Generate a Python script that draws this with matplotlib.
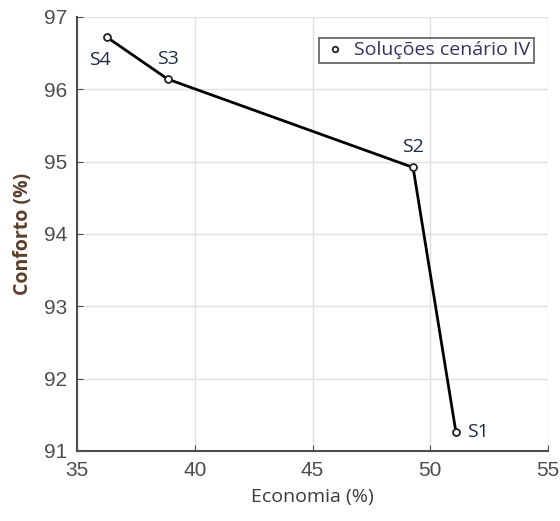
import matplotlib
matplotlib.use("Agg")
import matplotlib.pyplot as plt

economia = [51.09, 49.27, 38.86, 36.27]
conforto = [91.26, 94.92, 96.14, 96.72]
labels = ["S1", "S2", "S3", "S4"]
xticks = [35, 40, 45, 50, 55]
yticks = [91, 92, 93, 94, 95, 96, 97]

fig = plt.figure(figsize=(5.6, 5.21), dpi=100)
ax = fig.add_axes([0.1375, 0.1344, 0.8411, 0.833])
ax.plot(economia, conforto, color="black", lw=2, marker="o", ms=5,
        mfc="white", mec="#222222", mew=1.3, label="Soluções cenário IV")

offsets = [(8, 0, "left", "center"), (0, 8, "center", "bottom"),
           (0, 8, "center", "bottom"), (3, -10, "right", "top")]
for x, y, t, (dx, dy, ha, va) in zip(economia, conforto, labels, offsets):
    ax.annotate(t, (x, y), xytext=(dx, dy), textcoords="offset points",
                ha=ha, va=va, fontsize=14, color="#1f2a44", family="Open Sans")

ax.set_xlim(35, 55)
ax.set_ylim(91, 97)
ax.set_xticks(xticks)
ax.set_yticks(yticks)
ax.grid(True, color="#e0e0e0", lw=1)
ax.set_axisbelow(True)
for s in ["top", "right"]:
    ax.spines[s].set_visible(False)
for s in ["left", "bottom"]:
    ax.spines[s].set_color("#4d4d4d")
    ax.spines[s].set_linewidth(1.5)
ax.tick_params(direction="in", length=4, colors="#4d4d4d", labelsize=15,
               labelcolor="#4d4d4d", pad=7)
for lab in ax.get_xticklabels() + ax.get_yticklabels():
    lab.set_family("Liberation Sans")
ax.set_xlabel("Economia (%)", fontsize=14, color="#3a3a3a", family="Open Sans",
              labelpad=6)
ax.set_ylabel("Conforto (%)", fontsize=14, color="#5a3e2b", family="Open Sans",
              fontweight="bold", labelpad=8)
leg = ax.legend(loc="upper right", fontsize=14, frameon=True, fancybox=False,
                borderpad=0.2, handletextpad=0.3, handlelength=1.3,
                bbox_to_anchor=(0.99, 0.975), markerscale=0.8)
leg.get_frame().set_edgecolor("#333333")
leg.get_frame().set_linewidth(1.2)
leg.get_lines()[0].set_linestyle("none")
for t in leg.get_texts():
    t.set_color("#3a3060")
    t.set_family("Open Sans")
fig.savefig("out.png", dpi=100)
